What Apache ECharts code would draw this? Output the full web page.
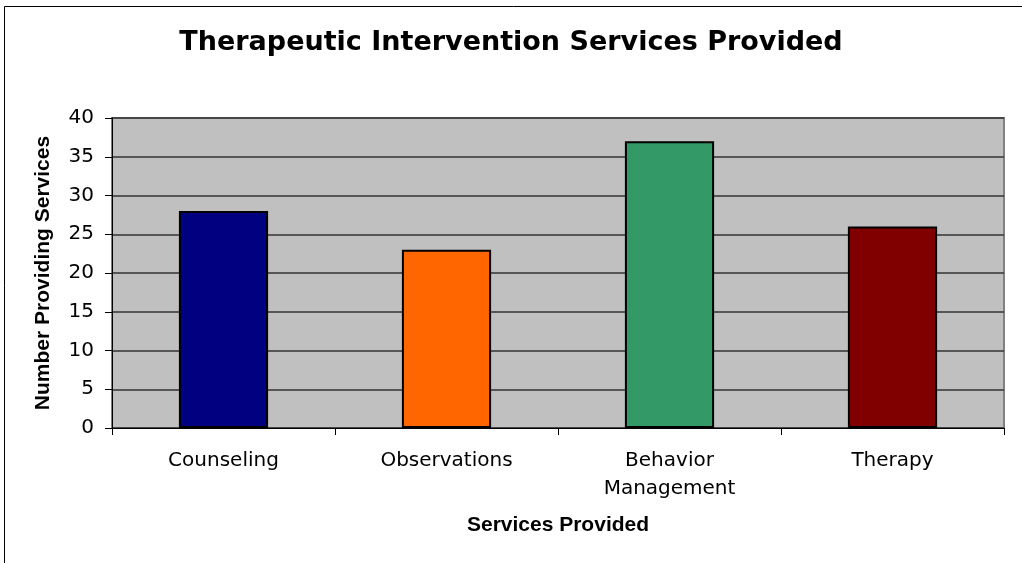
<!DOCTYPE html>
<html>
<head>
<meta charset="utf-8">
<script src="https://cdn.jsdelivr.net/npm/echarts@6/dist/echarts.min.js"></script>
<style>
  html, body { margin: 0; padding: 0; background: #fff; }
  #chart { width: 1022px; height: 563px; }
</style>
</head>
<body>
<div id="chart"></div>
<script>
var categories = ['Counseling', 'Observations', 'Behavior\nManagement', 'Therapy']
var values = [28, 23, 37, 26]
var barColors = ['#000080', '#FF6600', '#339966', '#800000']

var chart = echarts.init(document.getElementById('chart'))
chart.setOption({
  backgroundColor: '#fff',
  animation: false,
  title: {
    text: 'Therapeutic Intervention Services Provided',
    left: 'center',
    top: 24,
    textStyle: {
      fontFamily: 'DejaVu Sans',
      fontSize: 27,
      fontWeight: 'bold',
      color: '#000'
    }
  },
  graphic: [{
    type: 'rect',
    shape: { x: 4.5, y: 6.5, width: 1030, height: 570 },
    style: { fill: 'none', stroke: '#000', lineWidth: 1 },
    silent: true
  }],
  grid: {
    left: 112,
    top: 118,
    right: 18,
    bottom: 135,
    show: true,
    backgroundColor: '#C0C0C0',
    borderColor: '#808080',
    borderWidth: 2
  },
  xAxis: {
    type: 'category',
    data: categories,
    name: 'Services Provided',
    nameLocation: 'middle',
    nameGap: 87,
    nameTextStyle: {
      fontFamily: 'Liberation Sans',
      fontWeight: 'bold',
      fontSize: 21,
      color: '#000'
    },
    axisLine: { show: true, lineStyle: { color: '#000', width: 1 } },
    axisTick: { show: true, length: 7, lineStyle: { color: '#000' } },
    axisLabel: {
      fontFamily: 'DejaVu Sans',
      fontSize: 20,
      color: '#000',
      margin: 19,
      lineHeight: 28
    }
  },
  yAxis: {
    type: 'value',
    min: 0,
    max: 40,
    interval: 5,
    name: 'Number Providing Services',
    nameLocation: 'middle',
    nameGap: 58,
    nameTextStyle: {
      fontFamily: 'Liberation Sans',
      fontWeight: 'bold',
      fontSize: 21,
      color: '#000'
    },
    axisLine: { show: true, lineStyle: { color: '#000', width: 1 } },
    axisTick: { show: true, length: 7, lineStyle: { color: '#000' } },
    axisLabel: {
      fontFamily: 'DejaVu Sans',
      fontSize: 20,
      color: '#000',
      margin: 18
    },
    splitLine: { show: true, lineStyle: { color: '#333', width: 1.5 } }
  },
  series: [{
    type: 'bar',
    data: values.map(function (v, i) {
      return { value: v, itemStyle: { color: barColors[i] } }
    }),
    barWidth: '40%',
    itemStyle: { borderColor: '#000', borderWidth: 2 }
  }]
})
</script>
</body>
</html>
